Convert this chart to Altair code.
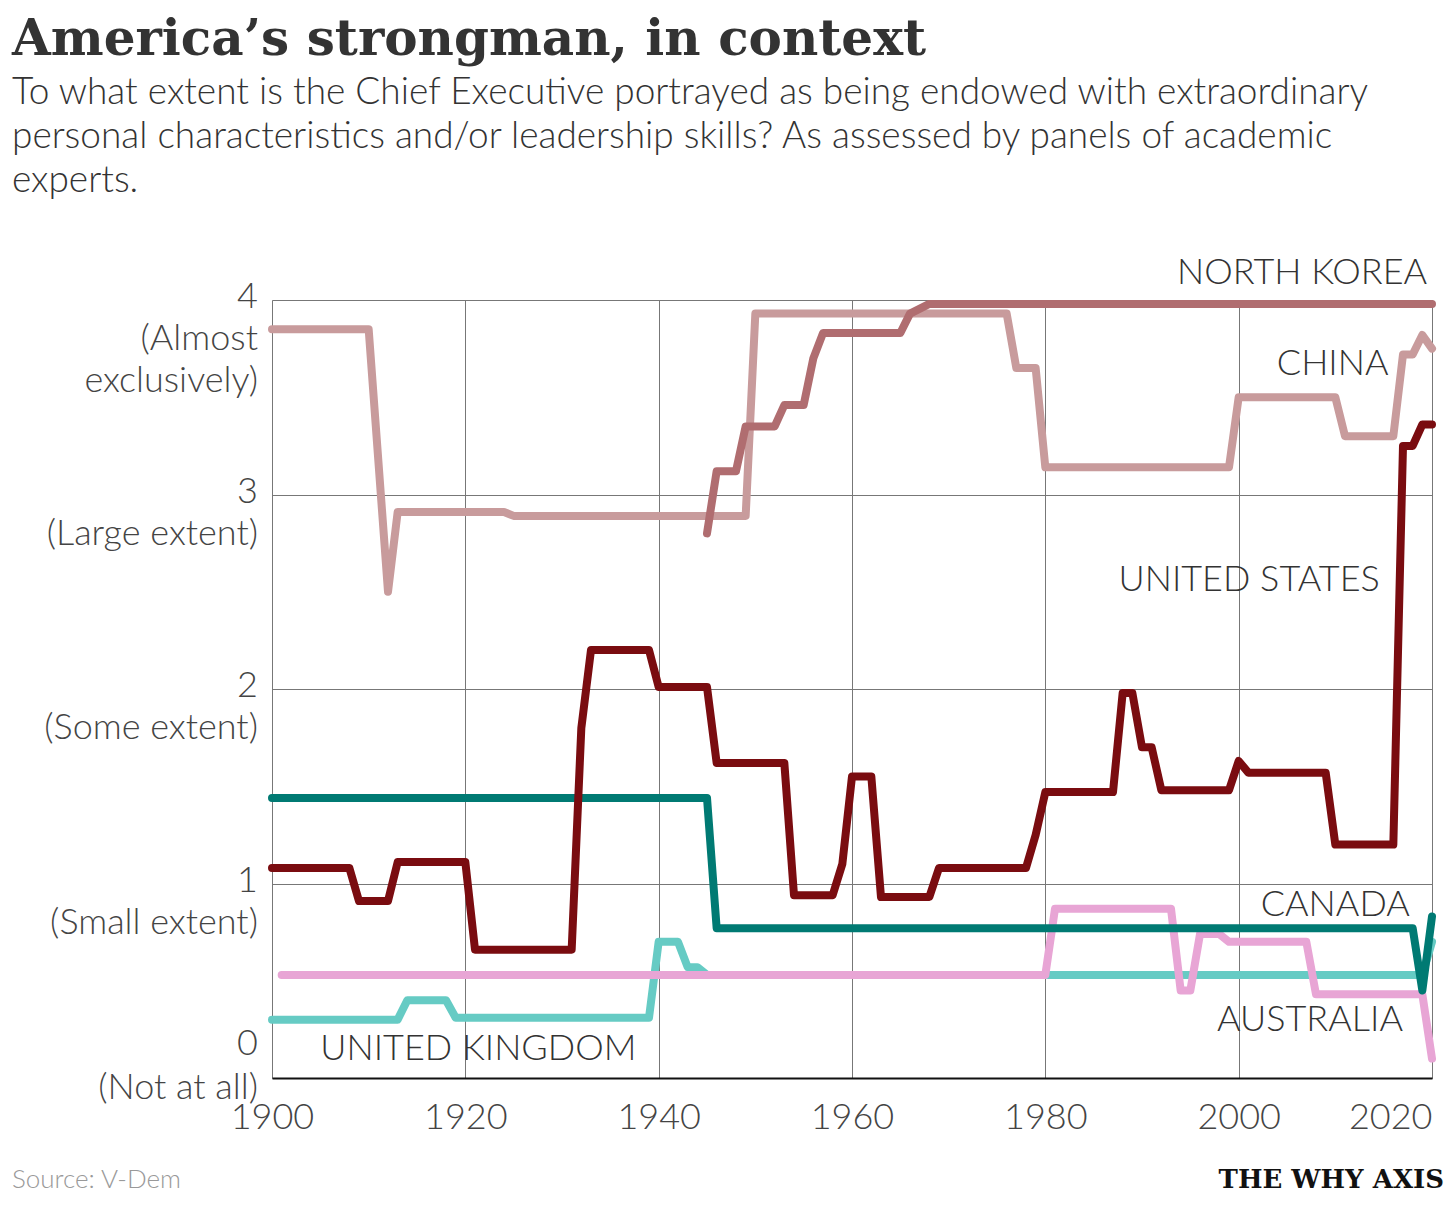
import pandas as pd
import altair as alt

# (year, value) breakpoints; lines are linear between them
china_years = [1900, 1910, 1912, 1913, 1924, 1925, 1949, 1950, 1976, 1977, 1979, 1980, 1999, 2000, 2010, 2011, 2016, 2017, 2018, 2019, 2020]
china_vals = [3.85, 3.85, 2.5, 2.91, 2.91, 2.89, 2.89, 3.93, 3.93, 3.65, 3.65, 3.14, 3.14, 3.5, 3.5, 3.3, 3.3, 3.72, 3.72, 3.82, 3.75]

nk_years = [1945, 1946, 1948, 1949, 1952, 1953, 1955, 1956, 1957, 1965, 1966, 1968, 2020]
nk_vals = [2.8, 3.12, 3.12, 3.35, 3.35, 3.46, 3.46, 3.7, 3.83, 3.83, 3.93, 3.98, 3.98]

us_years = [1900, 1908, 1909, 1912, 1913, 1920, 1921, 1931, 1932, 1933, 1939, 1940, 1945, 1946, 1953, 1954, 1958, 1959, 1960, 1962, 1963, 1968, 1969, 1978, 1979, 1980, 1987, 1988, 1989, 1990, 1991, 1992, 1999, 2000, 2001, 2009, 2010, 2016, 2017, 2018, 2019, 2020]
us_vals = [1.08, 1.08, 0.91, 0.91, 1.11, 1.11, 0.66, 0.66, 1.8, 2.2, 2.2, 2.01, 2.01, 1.62, 1.62, 0.94, 0.94, 1.1, 1.55, 1.55, 0.93, 0.93, 1.08, 1.08, 1.25, 1.47, 1.47, 1.98, 1.98, 1.7, 1.7, 1.48, 1.48, 1.63, 1.57, 1.57, 1.2, 1.2, 3.25, 3.25, 3.36, 3.36]

canada_years = [1900, 1945, 1946, 2018, 2019, 2020]
canada_vals = [1.44, 1.44, 0.77, 0.77, 0.45, 0.83]

uk_years = [1900, 1913, 1914, 1918, 1919, 1939, 1940, 1942, 1943, 1944, 1945, 2019, 2020]
uk_vals = [0.3, 0.3, 0.4, 0.4, 0.31, 0.31, 0.7, 0.7, 0.57, 0.57, 0.53, 0.53, 0.7]

aus_years = [1901, 1980, 1981, 1993, 1994, 1995, 1996, 1998, 1999, 2007, 2008, 2019, 2020]
aus_vals = [0.53, 0.53, 0.87, 0.87, 0.45, 0.45, 0.74, 0.74, 0.7, 0.7, 0.43, 0.43, 0.1]

series = [
    ("China", china_years, china_vals, "#c89b9c"),
    ("North Korea", nk_years, nk_vals, "#b06d70"),
    ("United Kingdom", uk_years, uk_vals, "#66cbc4"),
    ("Australia", aus_years, aus_vals, "#e8a5d5"),
    ("Canada", canada_years, canada_vals, "#007a73"),
    ("United States", us_years, us_vals, "#7a0c10"),
]

rows = []
for name, ys, vs, _ in series:
    for y, v in zip(ys, vs):
        rows.append({"country": name, "year": y, "value": v})
df = pd.DataFrame(rows)

label_names = ["NORTH KOREA", "CHINA", "UNITED STATES", "CANADA", "AUSTRALIA", "UNITED KINGDOM"]
label_x = [2019.5, 2015.5, 2014.6, 2017.7, 2017.0, 1905.0]
label_y = [4.14, 3.67, 2.56, 0.89, 0.30, 0.15]
label_side = ["right", "right", "right", "right", "right", "left"]
labels = pd.DataFrame({"name": label_names, "year": label_x, "value": label_y, "side": label_side})

ytick_vals = [4, 3, 2, 1]
ytick_text = ["4\n(Almost\nexclusively)", "3\n(Large extent)", "2\n(Some extent)", "1\n(Small extent)"]
yticks = pd.DataFrame({"value": ytick_vals, "text": ytick_text})
yzero = pd.DataFrame({"value": [0], "text": ["0\n(Not at all)"]})

W, H = 1160, 778
FONT = "Lato"
xs = alt.Scale(domain=[1900, 2020], nice=False, zero=False)
ys_ = alt.Scale(domain=[0, 4], nice=False)

base = alt.Chart(df)
lines = base.mark_line(strokeWidth=8, strokeCap="round", strokeJoin="round", clip=False).encode(
    x=alt.X("year:Q", scale=xs, title=None,
            axis=alt.Axis(values=[1900, 1920, 1940, 1960, 1980, 2000, 2020], format="d",
                          labelFontSize=36, labelFont=FONT, labelFontWeight=300, labelColor="#444",
                          labelAlign={"condition": {"test": "datum.value == 2020", "value": "right"},
                                      "value": "center"},
                          ticks=False, labelPadding=22, grid=True, gridColor="#777",
                          gridWidth=1, domainColor="#111", domainWidth=2, labelFlush=False)),
    y=alt.Y("value:Q", scale=ys_, title=None,
            axis=alt.Axis(values=[0, 1, 2, 3, 4], labels=False, ticks=False, domain=False,
                          grid=True, gridColor="#777", gridWidth=1)),
    color=alt.Color("country:N", legend=None,
                    scale=alt.Scale(domain=[s[0] for s in series], range=[s[3] for s in series])),
    order=alt.Order("year:Q"),
    detail="country:N",
)

lab_r = alt.Chart(labels[labels["side"] == "right"]).mark_text(
    align="right", baseline="middle", fontSize=36, font=FONT, fontWeight=300, color="#333"
).encode(x=alt.X("year:Q", scale=xs), y=alt.Y("value:Q", scale=ys_), text="name:N")
lab_l = alt.Chart(labels[labels["side"] == "left"]).mark_text(
    align="left", baseline="middle", fontSize=36, font=FONT, fontWeight=300, color="#333"
).encode(x=alt.X("year:Q", scale=xs), y=alt.Y("value:Q", scale=ys_), text="name:N")

ylabels = alt.Chart(yticks).mark_text(
    align="right", baseline="top", dy=-20, lineBreak="\n", lineHeight=42,
    fontSize=36, font=FONT, fontWeight=300, color="#444"
).encode(x=alt.value(-14), y=alt.Y("value:Q", scale=ys_), text="text:N")
ylabel0 = alt.Chart(yzero).mark_text(
    align="right", baseline="bottom", dy=-15, lineBreak="\n", lineHeight=44,
    fontSize=36, font=FONT, fontWeight=300, color="#444"
).encode(x=alt.value(-14), y=alt.Y("value:Q", scale=ys_), text="text:N")

source = alt.Chart(pd.DataFrame({"t": ["Source: V-Dem"]})).mark_text(
    align="left", baseline="middle", fontSize=26, font=FONT, fontWeight=300, color="#999"
).encode(x=alt.value(-260), y=alt.value(880), text="t:N")
brand = alt.Chart(pd.DataFrame({"t": ["THE WHY AXIS"]})).mark_text(
    align="right", baseline="middle", fontSize=26, font="DejaVu Serif", fontWeight="bold", color="#111"
).encode(x=alt.value(1172), y=alt.value(880), text="t:N")

chart = alt.layer(lines, lab_r, lab_l, ylabels, ylabel0, source, brand).properties(
    width=W, height=H,
    title=alt.Title(
        "America\u2019s strongman, in context",
        subtitle=["To what extent is the Chief Executive portrayed as being endowed with extraordinary",
                  "personal characteristics and/or leadership skills? As assessed by panels of academic",
                  "experts."],
        anchor="start", frame="bounds", font="DejaVu Serif", fontSize=50, fontWeight="bold",
        color="#333", subtitleFont=FONT, subtitleFontSize=37, subtitleFontWeight=300,
        subtitleColor="#333", subtitleLineHeight=44, subtitlePadding=10, offset=56, dx=0,
    ),
).configure_view(stroke=None).configure(padding={"left": 4, "top": 6, "right": 2, "bottom": 2})

chart.save("out.html", embed_options={"renderer": "svg", "actions": False})
